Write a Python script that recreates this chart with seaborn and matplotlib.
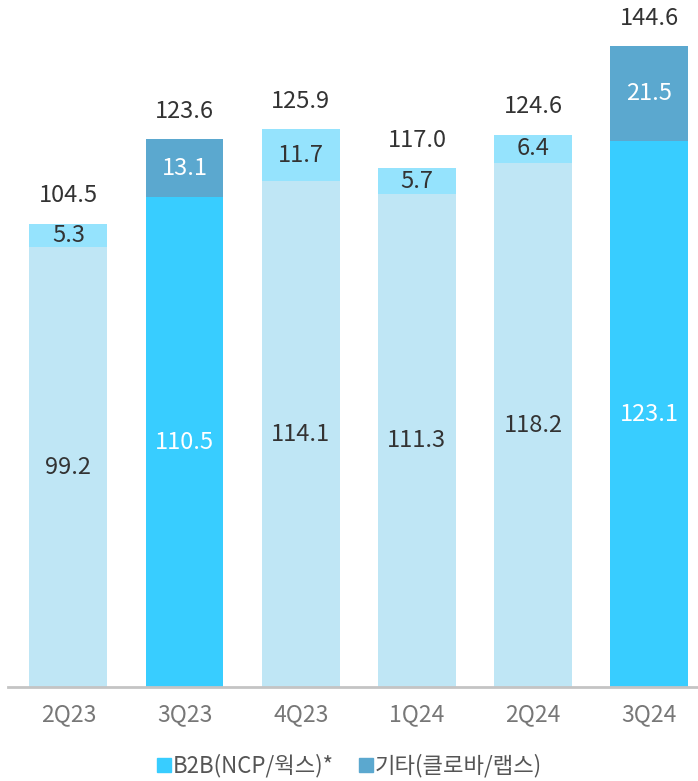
import matplotlib
matplotlib.use("Agg")
import matplotlib.pyplot as plt
import seaborn as sns
import pandas as pd
from matplotlib.lines import Line2D

quarters = ['2Q23', '3Q23', '4Q23', '1Q24', '2Q24', '3Q24']
b2b = [99.2, 110.5, 114.1, 111.3, 118.2, 123.1]
other = [5.3, 13.1, 11.7, 5.7, 6.4, 21.5]
totals = [104.5, 123.6, 125.9, 117.0, 124.6, 144.6]
legend_labels = ['B2B(NCP/웍스)*', '기타(클로바/랩스)']

pale = '#bfe6f5'
light = '#95e3fd'
bright = '#38cdff'
steel = '#5ba8cf'
highlight = [False, True, False, False, False, True]

bottom_colors = [bright if h else pale for h in highlight]
top_colors = [steel if h else light for h in highlight]

sns.set_style('white')
plt.rcParams['font.family'] = ['Noto Sans CJK KR', 'DejaVu Sans']

df = pd.DataFrame({'quarter': quarters, 'b2b': b2b, 'total': [b + o for b, o in zip(b2b, other)]})

fig = plt.figure(figsize=(6.98, 7.81), dpi=100)
ax = fig.add_axes([8 / 698, (781 - 687) / 781, 690 / 698, 687 / 781])

sns.barplot(data=df, x='quarter', y='total', hue='quarter', palette=top_colors,
            legend=False, width=0.67, saturation=1, linewidth=0, ax=ax)
sns.barplot(data=df, x='quarter', y='b2b', hue='quarter', palette=bottom_colors,
            legend=False, width=0.67, saturation=1, linewidth=0, ax=ax)

fs = 17
for i in range(len(quarters)):
    tc = 'white' if highlight[i] else '#333333'
    ax.text(i, b2b[i] / 2, f'{b2b[i]:.1f}', ha='center', va='center', fontsize=fs, color=tc)
    ax.text(i, b2b[i] + other[i] / 2, f'{other[i]:.1f}', ha='center', va='center', fontsize=fs, color=tc)
    ax.text(i, totals[i] + 6.3, f'{totals[i]:.1f}', ha='center', va='center', fontsize=fs, color='#333333')

ax.set_xlim(-0.52, 5.42)
ax.set_ylim(0, 155)
ax.set_xlabel('')
ax.set_ylabel('')
ax.set_yticks([])
ax.tick_params(axis='x', length=0, pad=12, labelsize=16.5, labelcolor='#777777')
for s in ['top', 'right', 'left']:
    ax.spines[s].set_visible(False)
ax.spines['bottom'].set_color('#c4c4c4')
ax.spines['bottom'].set_linewidth(2)

handles = [Line2D([], [], marker='s', linestyle='', color=bright, markersize=10),
           Line2D([], [], marker='s', linestyle='', color=steel, markersize=10)]
leg = fig.legend(handles, legend_labels, loc='center', bbox_to_anchor=(0.5, 1 - 766 / 781),
                 ncol=2, frameon=False, fontsize=16, handletextpad=0.05, columnspacing=1.1,
                 handlelength=0.7, borderpad=0)
for t in leg.get_texts():
    t.set_color('#555555')

fig.savefig('out.png', dpi=100)
